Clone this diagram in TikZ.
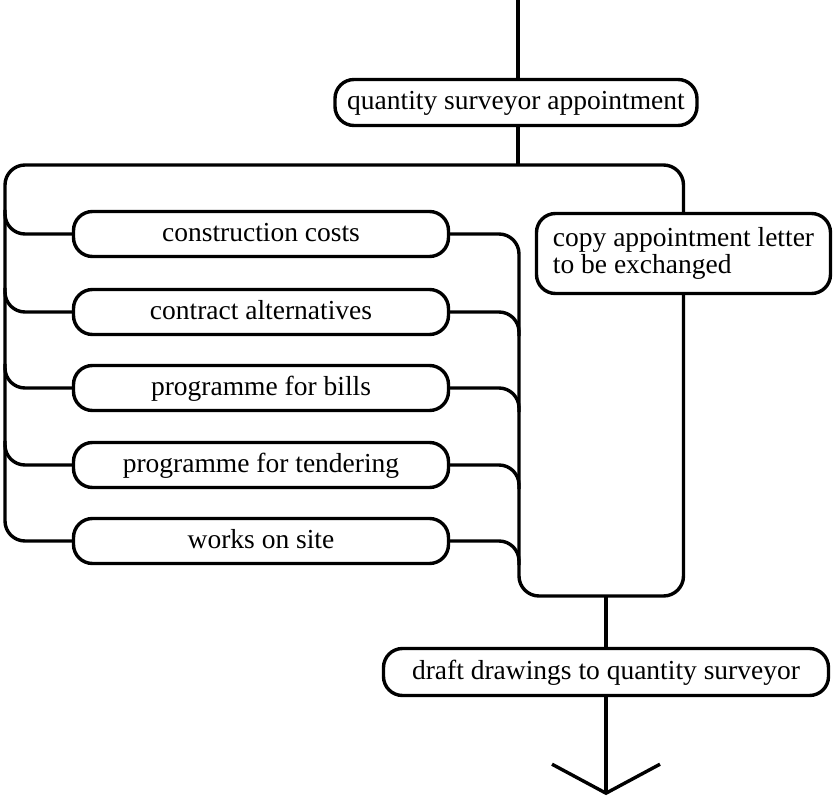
\documentclass[tikz,border=0pt]{standalone}
\usepackage{fontspec}
\setmainfont{Liberation Serif}
\begin{document}
\begin{tikzpicture}[x=1pt, y=-1pt, line width=3.4pt,
  flowbox/.style={draw, rounded corners=19pt, inner sep=0pt,
    font=\fontsize{27.5}{27}\selectfont},
  oneline/.style={text height=19pt, text depth=5pt},
  taskbox/.style={flowbox, oneline, minimum width=375pt, minimum height=45pt},
  wire/.style={rounded corners=20pt}]
\useasboundingbox (0,0) rectangle (833,797);

% main sequence
\node[flowbox, oneline, minimum width=362pt, minimum height=46pt] (qs) at (516,102.5)
  {quantity surveyor appointment};
\node[flowbox, align=left, minimum width=294pt, minimum height=80pt] (copy) at (683.5,253.5)
  {copy appointment letter\\to be exchanged};
\node[flowbox, oneline, minimum width=445pt, minimum height=47pt] (draft) at (606,672)
  {draft drawings to quantity surveyor};

% parallel tasks
\node[taskbox] (cc) at (261,234) {construction costs};
\node[taskbox] (ca) at (261,312) {contract alternatives};
\node[taskbox] (pb) at (261,388) {programme for bills};
\node[taskbox] (pt) at (261,465) {programme for tendering};
\node[taskbox] (ws) at (261,541) {works on site};

% connector coordinates
\coordinate (top) at (518,-2);
\coordinate (busjoin) at (518,165);
\coordinate (lbus) at (5,165);
\coordinate (mL) at (519,596);
\path (draft.south) ++(0,96) coordinate (tip);
\path (tip) ++(-54,-29) coordinate (armL);
\path (tip) ++(54,-29) coordinate (armR);

% incoming line and split
\draw (top) -- (top |- qs.north);
\draw (top |- qs.south) -- (busjoin);
\draw[wire] (copy.north) |- (lbus) |- (ws.west);
\draw[wire] (lbus |- cc.north) |- (cc.west);
\draw[wire] (lbus |- ca.north) |- (ca.west);
\draw[wire] (lbus |- pb.north) |- (pb.west);
\draw[wire] (lbus |- pt.north) |- (pt.west);

% merge
\draw[wire] (cc.east) -| (mL) -| (copy.south);
\draw[wire] (ca.east) -| (mL |- ca.south);
\draw[wire] (pb.east) -| (mL |- pb.south);
\draw[wire] (pt.east) -| (mL |- pt.south);
\draw[wire] (ws.east) -| (mL |- ws.south);

% outgoing line
\draw (draft.north |- mL) -- (draft.north);
\draw (draft.south) -- (tip);
\draw (armL) -- (tip) -- (armR);
\end{tikzpicture}
\end{document}
